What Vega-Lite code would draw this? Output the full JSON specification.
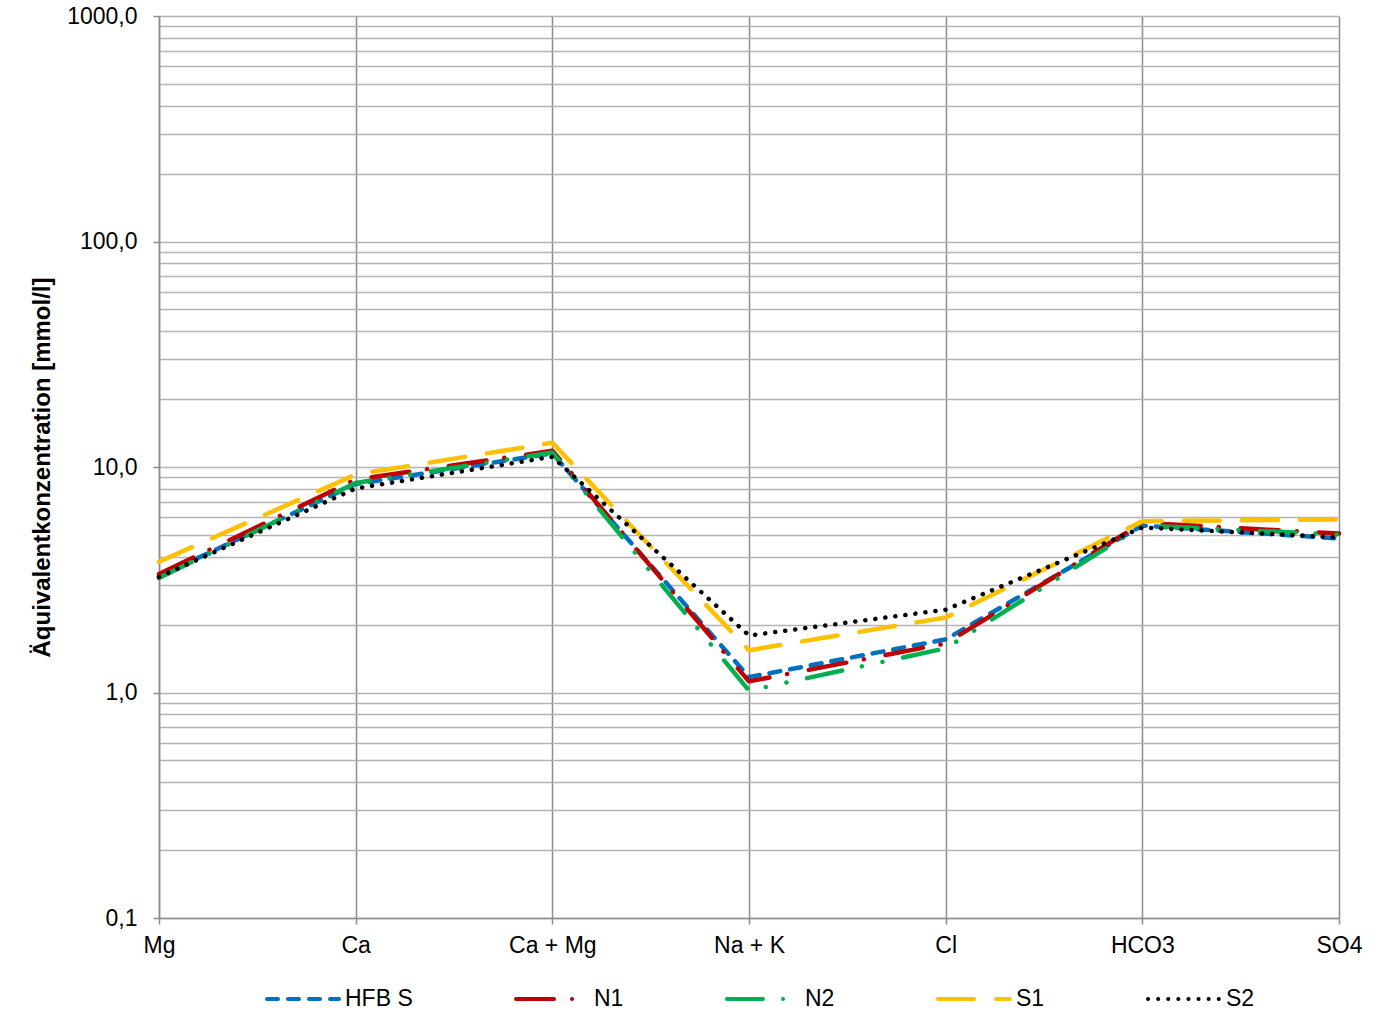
{
  "$schema": "https://vega.github.io/schema/vega-lite/v6.json",
  "autosize": "none",
  "padding": {"left": 159, "top": 16, "right": 54, "bottom": 95},
  "width": 1180,
  "height": 902,
  "background": "white",
  "config": {
    "view": {"stroke": null},
    "font": "Liberation Sans"
  },
  "data": {
    "values": [
      {"series": "HFB S", "ion": "Mg", "value": 3.28},
      {"series": "HFB S", "ion": "Ca", "value": 8.4},
      {"series": "HFB S", "ion": "Ca + Mg", "value": 11.5},
      {"series": "HFB S", "ion": "Na + K", "value": 1.17},
      {"series": "HFB S", "ion": "Cl", "value": 1.72},
      {"series": "HFB S", "ion": "HCO3", "value": 5.5},
      {"series": "HFB S", "ion": "SO4", "value": 4.82},
      {"series": "N1", "ion": "Mg", "value": 3.35},
      {"series": "N1", "ion": "Ca", "value": 8.8},
      {"series": "N1", "ion": "Ca + Mg", "value": 11.8},
      {"series": "N1", "ion": "Na + K", "value": 1.12},
      {"series": "N1", "ion": "Cl", "value": 1.65},
      {"series": "N1", "ion": "HCO3", "value": 5.65},
      {"series": "N1", "ion": "SO4", "value": 5.07},
      {"series": "N2", "ion": "Mg", "value": 3.22},
      {"series": "N2", "ion": "Ca", "value": 8.5},
      {"series": "N2", "ion": "Ca + Mg", "value": 11.6},
      {"series": "N2", "ion": "Na + K", "value": 1.02},
      {"series": "N2", "ion": "Cl", "value": 1.57},
      {"series": "N2", "ion": "HCO3", "value": 5.5},
      {"series": "N2", "ion": "SO4", "value": 5.02},
      {"series": "S1", "ion": "Mg", "value": 3.8},
      {"series": "S1", "ion": "Ca", "value": 9.26},
      {"series": "S1", "ion": "Ca + Mg", "value": 12.8},
      {"series": "S1", "ion": "Na + K", "value": 1.54},
      {"series": "S1", "ion": "Cl", "value": 2.15},
      {"series": "S1", "ion": "HCO3", "value": 5.75},
      {"series": "S1", "ion": "SO4", "value": 5.85},
      {"series": "S2", "ion": "Mg", "value": 3.25},
      {"series": "S2", "ion": "Ca", "value": 8.03},
      {"series": "S2", "ion": "Ca + Mg", "value": 11.1},
      {"series": "S2", "ion": "Na + K", "value": 1.79},
      {"series": "S2", "ion": "Cl", "value": 2.33},
      {"series": "S2", "ion": "HCO3", "value": 5.39},
      {"series": "S2", "ion": "SO4", "value": 4.87}
    ]
  },
  "mark": {"type": "line", "strokeWidth": 4.5, "strokeCap": "round", "strokeJoin": "round"},
  "encoding": {
    "x": {
      "field": "ion",
      "type": "nominal",
      "sort": ["Mg", "Ca", "Ca + Mg", "Na + K", "Cl", "HCO3", "SO4"],
      "scale": {"type": "point", "padding": 0},
      "axis": {
        "title": null,
        "labelAngle": 0,
        "labelFontSize": 23,
        "labelColor": "#000000",
        "labelPadding": 10,
        "grid": true,
        "gridColor": "#8c8c8c",
        "gridWidth": 1.5,
        "domainColor": "#8c8c8c",
        "domainWidth": 1.5,
        "tickColor": "#8c8c8c",
        "tickWidth": 1.5,
        "tickSize": 6
      }
    },
    "y": {
      "field": "value",
      "type": "quantitative",
      "scale": {"type": "log", "domain": [0.1, 1000], "nice": false},
      "axis": {
        "title": "Äquivalentkonzentration [mmol/l]",
        "titleFontSize": 24,
        "titleFontWeight": "bold",
        "titleColor": "#000000",
        "titlePadding": 12,
        "values": [0.1, 0.2, 0.3, 0.4, 0.5, 0.6, 0.7, 0.8, 0.9, 1, 2, 3, 4, 5, 6, 7, 8, 9, 10, 20, 30, 40, 50, 60, 70, 80, 90, 100, 200, 300, 400, 500, 600, 700, 800, 900, 1000],
        "labelExpr": "indexof([0.1, 1, 10, 100, 1000], datum.value) >= 0 ? replace(format(datum.value, '.1f'), '.', ',') : ''",
        "labelFontSize": 23,
        "labelColor": "#000000",
        "labelPadding": 16,
        "labelOverlap": false,
        "labelBound": false,
        "labelFlush": false,
        "grid": true,
        "gridColor": "#b4b4b4",
        "gridWidth": 1.5,
        "domainColor": "#8c8c8c",
        "domainWidth": 1.5,
        "tickColor": "#8c8c8c",
        "tickWidth": 1.5,
        "tickSize": 6,
        "tickOpacity": {"condition": {"test": "indexof([0.1, 1, 10, 100, 1000], datum.value) >= 0", "value": 1}, "value": 0}
      }
    },
    "color": {
      "field": "series",
      "type": "nominal",
      "scale": {
        "domain": ["HFB S", "N1", "N2", "S1", "S2"],
        "range": ["#0070C0", "#C00000", "#00B050", "#FFC000", "#000000"]
      },
      "legend": {
        "title": null,
        "orient": "none",
        "legendX": 106,
        "legendY": 945,
        "direction": "horizontal",
        "columns": 5,
        "gridAlign": "each",
        "columnPadding": 95,
        "symbolType": "stroke",
        "symbolSize": 5184,
        "symbolStrokeWidth": 4,
        "labelFontSize": 23,
        "labelColor": "#000000",
        "labelOffset": 4,
        "labelLimit": 200,
        "encode": {
          "symbols": {"update": {"strokeCap": {"value": "round"}}}
        }
      }
    },
    "strokeDash": {
      "field": "series",
      "type": "nominal",
      "scale": {
        "domain": ["HFB S", "N1", "N2", "S1", "S2"],
        "range": [[11, 10], [38, 18, 0.1, 22], [36, 20, 0.1, 21, 0.1, 21], [36, 22], [0.1, 10]]
      },
      "legend": null
    }
  }
}
